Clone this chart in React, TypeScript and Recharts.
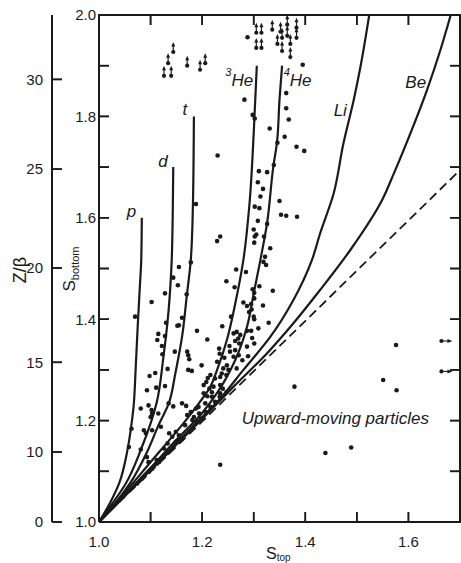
import { ScatterChart, Scatter, XAxis, YAxis, ReferenceLine } from 'recharts';

const INK = '#1a1a1a';
const TICK_FONT = "Liberation Sans, Arial, sans-serif";
const LABEL_FONT = "'Liberation Sans', Arial, Helvetica, sans-serif";
const S_AXIS_W = 47;
const Z_AXIS_W = 52;

// axis ticks
const sTopTicks = [1.0, 1.1, 1.2, 1.3, 1.4, 1.5, 1.6];
const sTopFrameTicks = [1.1, 1.2, 1.3, 1.4, 1.5, 1.6];
const sBottomTicks = [1.0, 1.1, 1.2, 1.3, 1.4, 1.5, 1.6, 1.7, 1.8, 1.9, 2.0];
const sBottomFrameTicks = [1.1, 1.2, 1.3, 1.4, 1.5, 1.6, 1.7, 1.8, 1.9];
// Z/beta scale is not linear: label -> S_bottom position
const zBetaLabels = [0, 10, 15, 20, 25, 30];
const zBetaAtSBottom = [1.0, 1.138, 1.315, 1.501, 1.696, 1.873];
const frameCorners = [[1.0, 1.0], [1.7, 1.0], [1.7, 2.0], [1.0, 2.0], [1.0, 1.0]];

// curves [S_top, S_bottom]
const pCurve = [[1.0, 1.0], [1.02, 1.035], [1.039, 1.076], [1.055, 1.141], [1.062, 1.185], [1.067, 1.227], [1.071, 1.3], [1.075, 1.385], [1.079, 1.46], [1.082, 1.52], [1.083, 1.6]];
const dCurve = [[1.0, 1.0], [1.025, 1.035], [1.052, 1.076], [1.081, 1.142], [1.112, 1.236], [1.125, 1.326], [1.135, 1.418], [1.141, 1.517], [1.143, 1.61], [1.144, 1.7]];
const tCurve = [[1.0, 1.0], [1.03, 1.035], [1.06, 1.076], [1.095, 1.142], [1.115, 1.19], [1.136, 1.236], [1.148, 1.293], [1.161, 1.365], [1.17, 1.444], [1.178, 1.517], [1.182, 1.62], [1.184, 1.8]];
const he3Curve = [[1.0, 1.0], [1.04, 1.046], [1.08, 1.094], [1.12, 1.142], [1.16, 1.19], [1.195, 1.236], [1.215, 1.265], [1.229, 1.3], [1.248, 1.359], [1.264, 1.43], [1.28, 1.517], [1.292, 1.63], [1.3, 1.767], [1.306, 1.9]];
const he4Curve = [[1.0, 1.0], [1.05, 1.053], [1.1, 1.107], [1.15, 1.162], [1.2, 1.215], [1.23, 1.256], [1.264, 1.319], [1.287, 1.385], [1.3, 1.451], [1.313, 1.517], [1.326, 1.59], [1.338, 1.701], [1.345, 1.748], [1.35, 1.833], [1.355, 1.9]];
const liCurve = [[1.0, 1.0], [1.06, 1.062], [1.12, 1.125], [1.18, 1.187], [1.2285, 1.236], [1.28, 1.3], [1.332, 1.365], [1.377, 1.438], [1.413, 1.517], [1.429, 1.57], [1.455, 1.648], [1.474, 1.747], [1.494, 1.833], [1.507, 1.898], [1.524, 2.0]];
const beCurve = [[1.0, 1.0], [1.1, 1.102], [1.2, 1.203], [1.261, 1.267], [1.326, 1.333], [1.377, 1.392], [1.429, 1.458], [1.487, 1.536], [1.549, 1.635], [1.572, 1.688], [1.604, 1.767], [1.636, 1.852], [1.662, 1.931], [1.682, 2.0]];
const equalLine = [[1.0, 1.0], [1.7, 1.694]];

// measured events [S_top, S_bottom]
const events = [
  [1.288, 1.956], [1.395, 1.902], [1.282, 1.833], [1.298, 1.803], [1.302, 1.796], [1.363, 1.846], [1.363, 1.816],
  [1.368, 1.794], [1.331, 1.776], [1.36, 1.76], [1.346, 1.748], [1.383, 1.74], [1.398, 1.732], [1.23, 1.723],
  [1.339, 1.704], [1.31, 1.692], [1.326, 1.69], [1.308, 1.67], [1.318, 1.657], [1.313, 1.642], [1.35, 1.633],
  [1.302, 1.622], [1.311, 1.619], [1.353, 1.606], [1.363, 1.604], [1.384, 1.602], [1.308, 1.594], [1.326, 1.588],
  [1.3, 1.577], [1.305, 1.567], [1.302, 1.563], [1.32, 1.563], [1.301, 1.551], [1.332, 1.54], [1.235, 1.563],
  [1.229, 1.554], [1.188, 1.627], [1.178, 1.512], [1.155, 1.503], [1.322, 1.523], [1.319, 1.513], [1.324, 1.507],
  [1.266, 1.498], [1.07, 1.405], [1.102, 1.434], [1.128, 1.451], [1.144, 1.482], [1.153, 1.467], [1.285, 1.493],
  [1.247, 1.475], [1.263, 1.463], [1.298, 1.459], [1.301, 1.452], [1.311, 1.465], [1.337, 1.456], [1.17, 1.449],
  [1.28, 1.433], [1.287, 1.426], [1.295, 1.43], [1.301, 1.441], [1.318, 1.427], [1.296, 1.419], [1.291, 1.414],
  [1.256, 1.405], [1.3, 1.405], [1.301, 1.4], [1.329, 1.393], [1.309, 1.382], [1.287, 1.377], [1.295, 1.377],
  [1.239, 1.386], [1.261, 1.372], [1.267, 1.375], [1.274, 1.369], [1.27, 1.362], [1.264, 1.357], [1.272, 1.352],
  [1.297, 1.363], [1.301, 1.352], [1.287, 1.346], [1.253, 1.347], [1.21, 1.36], [1.19, 1.377], [1.13, 1.393],
  [1.115, 1.371], [1.128, 1.367], [1.113, 1.359], [1.122, 1.347], [1.123, 1.331], [1.147, 1.336], [1.171, 1.336],
  [1.173, 1.329], [1.175, 1.321], [1.161, 1.403], [1.155, 1.388], [1.152, 1.387], [1.233, 1.342], [1.234, 1.332],
  [1.254, 1.336], [1.264, 1.339], [1.261, 1.326], [1.271, 1.329], [1.243, 1.324], [1.229, 1.316], [1.199, 1.309],
  [1.173, 1.3], [1.18, 1.298], [1.133, 1.302], [1.109, 1.294], [1.098, 1.288], [1.248, 1.309], [1.241, 1.303],
  [1.238, 1.293], [1.247, 1.29], [1.251, 1.3], [1.235, 1.286], [1.225, 1.283], [1.267, 1.303], [1.216, 1.29],
  [1.211, 1.284], [1.208, 1.276], [1.203, 1.27], [1.214, 1.263], [1.222, 1.267], [1.235, 1.27], [1.24, 1.263],
  [1.128, 1.268], [1.111, 1.265], [1.093, 1.26], [1.203, 1.254], [1.21, 1.248], [1.219, 1.247], [1.235, 1.254],
  [1.234, 1.247], [1.096, 1.23], [1.081, 1.224], [1.135, 1.234], [1.144, 1.228], [1.161, 1.234], [1.169, 1.229],
  [1.193, 1.227], [1.188, 1.224], [1.206, 1.234], [1.216, 1.227], [1.225, 1.237], [1.102, 1.221], [1.103, 1.214],
  [1.1, 1.207], [1.115, 1.214], [1.171, 1.211], [1.178, 1.217], [1.184, 1.207], [1.194, 1.214], [1.198, 1.204],
  [1.207, 1.217], [1.19, 1.197], [1.181, 1.201], [1.167, 1.191], [1.063, 1.184], [1.058, 1.148], [1.087, 1.181],
  [1.091, 1.175], [1.103, 1.181], [1.081, 1.143], [1.093, 1.128], [1.096, 1.118], [1.12, 1.188], [1.136, 1.175],
  [1.149, 1.178], [1.142, 1.168], [1.155, 1.171], [1.133, 1.155], [1.149, 1.158], [1.155, 1.16], [1.16, 1.163],
  [1.126, 1.145], [1.133, 1.136], [1.125, 1.128], [1.116, 1.118], [1.112, 1.115], [1.103, 1.105], [1.097, 1.099],
  [1.088, 1.09], [1.084, 1.086], [1.074, 1.076], [1.112, 1.122], [1.143, 1.146], [1.122, 1.126], [1.379, 1.267],
  [1.576, 1.349], [1.551, 1.28], [1.577, 1.26], [1.439, 1.136], [1.489, 1.147], [1.235, 1.113], [1.278, 1.319],
  [1.289, 1.327], [1.219, 1.256], [1.247, 1.256],
];

// off-scale events (arrows)
const offScaleUp = [
  [1.144, 1.927], [1.134, 1.905], [1.126, 1.88], [1.14, 1.88], [1.171, 1.9], [1.196, 1.892], [1.206, 1.905],
  [1.305, 1.965], [1.305, 1.935], [1.315, 1.965], [1.315, 1.935], [1.336, 1.971], [1.352, 1.967], [1.365, 1.981],
  [1.365, 1.959], [1.383, 1.975], [1.383, 1.955], [1.346, 1.943], [1.355, 1.955], [1.355, 1.929], [1.371, 1.943],
  [1.371, 1.917],
];
const offScaleRight = [[1.664, 1.357], [1.664, 1.297]];

// curve labels
const curveNames = ['p', 'd', 't', 'He', 'He', 'Li', 'Be'];
const curveSups = ['', '', '', '3', '4', '', ''];
const curveLabelAt = [[1.054, 1.602], [1.115, 1.701], [1.162, 1.803], [1.245, 1.86], [1.358, 1.86], [1.455, 1.8], [1.594, 1.856]];
const regionLabel = 'Upward-moving particles';
const regionLabelAt = [1.277, 1.194];

const pts = (arr: number[][]) => arr.map(([x, y]) => ({ x, y }));
const labels = curveNames.map((name, i) => ({ x: curveLabelAt[i][0], y: curveLabelAt[i][1], name, sup: curveSups[i] }));
const regionLabels = [{ x: regionLabelAt[0], y: regionLabelAt[1], name: regionLabel, sup: '' }];

// tick marks drawn inward from the frame
const bottomMarks = sTopFrameTicks.map((x) => ({ x, y: 1.0 }));
const topMarks = sTopFrameTicks.map((x) => ({ x, y: 2.0 }));
const leftMarks = sBottomFrameTicks.map((y) => ({ x: 1.0, y }));
const rightMarks = sBottomFrameTicks.map((y) => ({ x: 1.7, y }));
const zMarks = zBetaAtSBottom.map((y) => ({ x: 1.0, y }));

const isEvenTenth = (v: number) => Math.round(v * 10) % 2 === 0;
const evenTenths = (v: number) => (isEvenTenth(v) ? v.toFixed(1) : '');
const zBetaFormat = (v: number) => {
  const i = zBetaAtSBottom.findIndex((s) => Math.abs(s - v) < 1e-6);
  return i >= 0 ? String(zBetaLabels[i]) : '';
};
const blank = () => '';

const markShape = (dx: number, dy: number, shift = 0) => (p: any) => (
  <path d={`M${p.cx + shift},${p.cy}l${dx},${dy}`} stroke={INK} strokeWidth={1.6} fill="none" />
);

const Dot = (p: any) => <circle cx={p.cx} cy={p.cy} r={2.3} fill={INK} />;
const NoMark = () => <g />;
const UpArrow = (p: any) => (
  <g>
    <circle cx={p.cx} cy={p.cy} r={2.1} fill={INK} />
    <path d={`M${p.cx},${p.cy}L${p.cx},${p.cy - 7}`} stroke={INK} strokeWidth={1.2} fill="none" />
    <path d={`M${p.cx - 2},${p.cy - 5.5} L${p.cx},${p.cy - 10} L${p.cx + 2},${p.cy - 5.5} Z`} fill={INK} />
  </g>
);
const RightArrow = (p: any) => (
  <g>
    <circle cx={p.cx} cy={p.cy} r={2.1} fill={INK} />
    <path d={`M${p.cx},${p.cy}L${p.cx + 8},${p.cy}`} stroke={INK} strokeWidth={1.1} fill="none" />
    <path d={`M${p.cx + 6},${p.cy - 2} L${p.cx + 11},${p.cy} L${p.cx + 6},${p.cy + 2} Z`} fill={INK} />
  </g>
);
const TextMark = (p: any) => {
  const d = p.payload || p;
  return (
    <text x={p.cx} y={p.cy} fontFamily={LABEL_FONT} fontStyle="italic" fontSize={17} fill={INK}>
      {d.sup ? (
        <>
          <tspan fontSize={11} dy={-10}>{d.sup}</tspan>
          <tspan dy={10}>{d.name}</tspan>
        </>
      ) : (
        d.name
      )}
    </text>
  );
};

const STopTitle = (props: any) => {
  const vb = props.viewBox;
  return (
    <text x={vb.x + 167} y={vb.y + 37} fontFamily={LABEL_FONT} fontSize={16} fill={INK}>
      S<tspan fontSize={10} dy={2}>top</tspan>
    </text>
  );
};
const SBottomTitle = (props: any) => {
  const vb = props.viewBox;
  const cx = vb.x + 23;
  const cy = vb.y + 254;
  return (
    <text x={cx} y={cy} transform={`rotate(-90, ${cx}, ${cy})`} textAnchor="middle" fontFamily={LABEL_FONT} fontSize={17} fill={INK}>
      S<tspan fontSize={11} dy={4}>bottom</tspan>
    </text>
  );
};
// Z/beta title, plus the Z/beta axis line along the axis box's right edge
const ZBetaTitle = (props: any) => {
  const vb = props.viewBox;
  const cx = vb.x + 26;
  const cy = vb.y + 255;
  const ax = vb.x + vb.width;
  return (
    <g>
      <path d={`M${ax},${vb.y}L${ax},${vb.y + vb.height}`} stroke={INK} strokeWidth={2} fill="none" />
      <text x={cx} y={cy} transform={`rotate(-90, ${cx}, ${cy})`} textAnchor="middle" fontFamily={LABEL_FONT} fontSize={18} fill={INK}>
        Z/β
      </text>
    </g>
  );
};

const frameLine = { stroke: INK, strokeWidth: 2 };
const tickMark = { stroke: INK, strokeWidth: 1.6 };
const tickText = { fill: INK, fontSize: 15 };
const curveLine = { stroke: INK, strokeWidth: 2.2 };

export default function App() {
  return (
    <div style={{ position: 'absolute', left: 0, top: 0, background: '#fff', fontFamily: TICK_FONT }}>
      <ScatterChart width={461} height={563} margin={{ top: 14, right: 0, bottom: 0, left: 0 }}>
        <XAxis
          xAxisId="b"
          type="number"
          dataKey="x"
          domain={[1.0, 1.7]}
          ticks={sTopTicks}
          interval={0}
          height={41}
          tickSize={-10}
          tickMargin={24}
          tickLine={tickMark}
          axisLine={frameLine}
          tick={tickText}
          tickFormatter={evenTenths}
          label={STopTitle}
        />
        <XAxis
          xAxisId="t"
          orientation="top"
          type="number"
          dataKey="x"
          domain={[1.0, 1.7]}
          allowDataOverflow
          ticks={sTopFrameTicks}
          interval={0}
          height={1}
          tickSize={-10}
          tickLine={tickMark}
          axisLine={frameLine}
          tick={tickText}
          tickFormatter={blank}
        />
        <YAxis
          yAxisId="s"
          type="number"
          dataKey="y"
          domain={[1.0, 2.0]}
          ticks={sBottomTicks}
          interval={0}
          width={S_AXIS_W}
          tickSize={-10}
          tickMargin={13}
          tickLine={tickMark}
          axisLine={frameLine}
          tick={tickText}
          tickFormatter={evenTenths}
          label={SBottomTitle}
        />
        <YAxis
          yAxisId="z"
          type="number"
          dataKey="y"
          domain={[1.0, 2.0]}
          allowDataOverflow
          ticks={zBetaAtSBottom}
          interval={0}
          width={Z_AXIS_W}
          tickSize={-10}
          tickMargin={19}
          tickLine={tickMark}
          axisLine={frameLine}
          tick={tickText}
          tickFormatter={zBetaFormat}
          label={ZBetaTitle}
        />
        <YAxis
          yAxisId="r"
          orientation="right"
          type="number"
          dataKey="y"
          domain={[1.0, 2.0]}
          allowDataOverflow
          ticks={sBottomFrameTicks}
          interval={0}
          width={1}
          tickSize={-10}
          tickLine={tickMark}
          axisLine={frameLine}
          tick={tickText}
          tickFormatter={blank}
        />

        {/* frame edges */}
        <ReferenceLine xAxisId="b" yAxisId="s" x={1.0} stroke={INK} strokeWidth={2} />
        <ReferenceLine xAxisId="b" yAxisId="s" x={1.7} stroke={INK} strokeWidth={2} />
        <ReferenceLine xAxisId="b" yAxisId="s" y={1.0} stroke={INK} strokeWidth={2} />
        <ReferenceLine xAxisId="b" yAxisId="s" y={2.0} stroke={INK} strokeWidth={2} />
        <Scatter
          xAxisId="b"
          yAxisId="s"
          data={pts(frameCorners)}
          line={{ stroke: INK, strokeWidth: 2 }}
          shape={NoMark}
          isAnimationActive={false}
        />
        <Scatter xAxisId="b" yAxisId="s" data={bottomMarks} shape={markShape(0, -10)} isAnimationActive={false} />
        <Scatter xAxisId="b" yAxisId="s" data={topMarks} shape={markShape(0, 10)} isAnimationActive={false} />
        <Scatter xAxisId="b" yAxisId="s" data={leftMarks} shape={markShape(10, 0)} isAnimationActive={false} />
        <Scatter xAxisId="b" yAxisId="s" data={rightMarks} shape={markShape(-10, 0)} isAnimationActive={false} />
        <Scatter xAxisId="b" yAxisId="s" data={zMarks} shape={markShape(10, 0, -S_AXIS_W)} isAnimationActive={false} />

        {[pCurve, dCurve, tCurve, he3Curve, he4Curve, liCurve, beCurve].map((c, i) => (
          <Scatter
            key={`curve-${i}`}
            xAxisId="b"
            yAxisId="s"
            data={pts(c)}
            line={curveLine}
            lineJointType="monotoneY"
            shape={NoMark}
            isAnimationActive={false}
          />
        ))}
        <Scatter
          xAxisId="b"
          yAxisId="s"
          data={pts(equalLine)}
          line={{ stroke: INK, strokeWidth: 1.8, strokeDasharray: '9 5' }}
          shape={NoMark}
          isAnimationActive={false}
        />
        <Scatter xAxisId="b" yAxisId="s" data={pts(events)} shape={Dot} isAnimationActive={false} />
        <Scatter xAxisId="b" yAxisId="s" data={pts(offScaleUp)} shape={UpArrow} isAnimationActive={false} />
        <Scatter xAxisId="b" yAxisId="s" data={pts(offScaleRight)} shape={RightArrow} isAnimationActive={false} />
        <Scatter xAxisId="b" yAxisId="s" data={labels} shape={TextMark} isAnimationActive={false} />
        <Scatter xAxisId="b" yAxisId="s" data={regionLabels} shape={TextMark} isAnimationActive={false} />
      </ScatterChart>
    </div>
  );
}
